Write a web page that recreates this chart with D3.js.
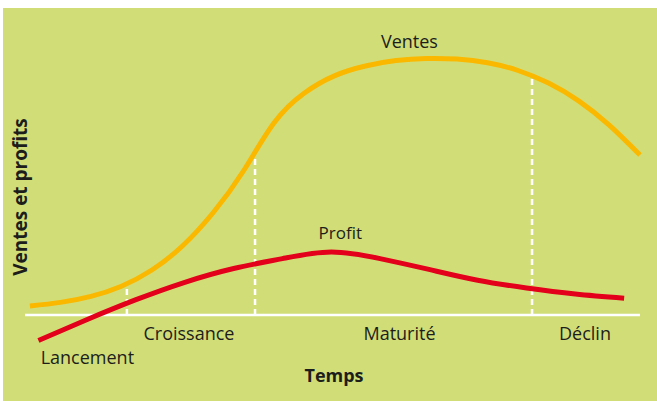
<!DOCTYPE html>
<html lang="fr">
<head>
<meta charset="utf-8">
<script src="https://cdn.jsdelivr.net/npm/d3@7"></script>
<style>
  html, body { margin: 0; padding: 0; background: #fff; }
  svg { display: block; }
  text { font-family: "Open Sans", "Noto Sans", sans-serif; fill: #1d1d1b; }
</style>
</head>
<body>
<svg id="chart" width="657" height="401"></svg>
<script>
// Product life cycle: time on a 0–100 scale, sales and profit in relative units
const salesTime   = [0, 5, 10, 15, 20, 25, 30, 35, 40, 45, 50, 55, 60, 65, 70, 75, 80, 85, 90, 95, 100];
const salesValues = [3.0, 4.2, 6.2, 9.6, 15.0, 23.0, 34.0, 48.0, 64.0, 74.0, 79.8, 83.0, 84.8, 85.5, 85.3, 84.1, 81.5, 77.3, 71.3, 63.2, 53.3];

const profitTime   = [1.4, 9.4, 17.4, 25.4, 33.4, 41.4, 49.4, 57.4, 65.4, 73.4, 81.4, 89.4, 97.4];
const profitValues = [-8.5, -1.5, 5.1, 10.9, 15.5, 18.8, 21.0, 18.8, 15.2, 11.6, 9.0, 7.0, 5.6];

// Phase boundaries (end of launch, end of growth, end of maturity)
const phaseBounds = [15.9, 36.9, 82.3];
const phaseNames  = ["Lancement", "Croissance", "Maturité", "Déclin"];

const seriesLabels = ["Ventes", "Profit"];
const xTitle = "Temps";
const yTitle = "Ventes et profits";

const svg = d3.select("#chart");
const W = 657, H = 401;

// Panel background
svg.append("rect")
  .attr("x", 3).attr("y", 8)
  .attr("width", W - 3).attr("height", H - 8)
  .attr("fill", "#d1de78");

const x = d3.scaleLinear().domain([-0.8, 100]).range([25, 640]);
const y = d3.scaleLinear().domain([0, 100]).range([315, 15]);

const sales  = salesTime.map((t, i) => ({ t, v: salesValues[i] }));
const profit = profitTime.map((t, i) => ({ t, v: profitValues[i] }));

const line = d3.line()
  .x(d => x(d.t))
  .y(d => y(d.v))
  .curve(d3.curveNatural);

// Time axis (plain white baseline)
svg.append("line")
  .attr("x1", x.range()[0]).attr("x2", x.range()[1])
  .attr("y1", y(0)).attr("y2", y(0))
  .attr("stroke", "#ffffff")
  .attr("stroke-width", 2.5);

const gSep = svg.append("g");

// Sales curve
const salesPath = svg.append("path")
  .datum(sales)
  .attr("d", line)
  .attr("fill", "none")
  .attr("stroke", "#fab800")
  .attr("stroke-width", 5);

// Profit curve
svg.append("path")
  .datum(profit)
  .attr("d", line)
  .attr("fill", "none")
  .attr("stroke", "#e2001a")
  .attr("stroke-width", 5);

// Height of the drawn sales curve at a given screen x
function curveYAt(pathNode, px) {
  let lo = 0, hi = pathNode.getTotalLength();
  for (let k = 0; k < 40; k++) {
    const mid = (lo + hi) / 2;
    if (pathNode.getPointAtLength(mid).x < px) lo = mid; else hi = mid;
  }
  return pathNode.getPointAtLength(lo).y;
}

// Dashed phase separators, rising from the axis to the sales curve
gSep.selectAll("line")
  .data(phaseBounds)
  .join("line")
  .attr("x1", d => x(d)).attr("x2", d => x(d))
  .attr("y1", y(0))
  .attr("y2", d => curveYAt(salesPath.node(), x(d)) + 3)
  .attr("stroke", "#ffffff")
  .attr("stroke-width", 2.5)
  .attr("stroke-dasharray", "6 4");

// Series labels above their peaks
const salesPeak  = sales.reduce((a, b) => (b.v > a.v ? b : a));
const profitPeak = profit.reduce((a, b) => (b.v > a.v ? b : a));
svg.append("text")
  .attr("x", x(salesPeak.t) - 17).attr("y", 48)
  .attr("text-anchor", "middle")
  .attr("font-size", 18)
  .text(seriesLabels[0]);
svg.append("text")
  .attr("x", x(profitPeak.t) + 9).attr("y", 239)
  .attr("text-anchor", "middle")
  .attr("font-size", 17)
  .text(seriesLabels[1]);

// Phase names centred under each phase
const edges = [0, ...phaseBounds, 100];
const phaseOffsets = [{ dx: 9, y: 364 }, { dx: -2, y: 340 }, { dx: 6, y: 340 }, { dx: -1, y: 340 }];
svg.append("g").selectAll("text")
  .data(phaseNames)
  .join("text")
  .attr("x", (d, i) => x((edges[i] + edges[i + 1]) / 2) + phaseOffsets[i].dx)
  .attr("y", (d, i) => phaseOffsets[i].y)
  .attr("text-anchor", "middle")
  .attr("font-size", 18)
  .text(d => d);

// Axis titles
svg.append("text")
  .attr("x", 334).attr("y", 382)
  .attr("text-anchor", "middle")
  .attr("font-size", 18)
  .attr("font-weight", 700)
  .text(xTitle);

svg.append("text")
  .attr("transform", "translate(27,197) rotate(-90)")
  .attr("text-anchor", "middle")
  .attr("font-size", 19)
  .attr("font-weight", 700)
  .text(yTitle);
</script>
</body>
</html>
